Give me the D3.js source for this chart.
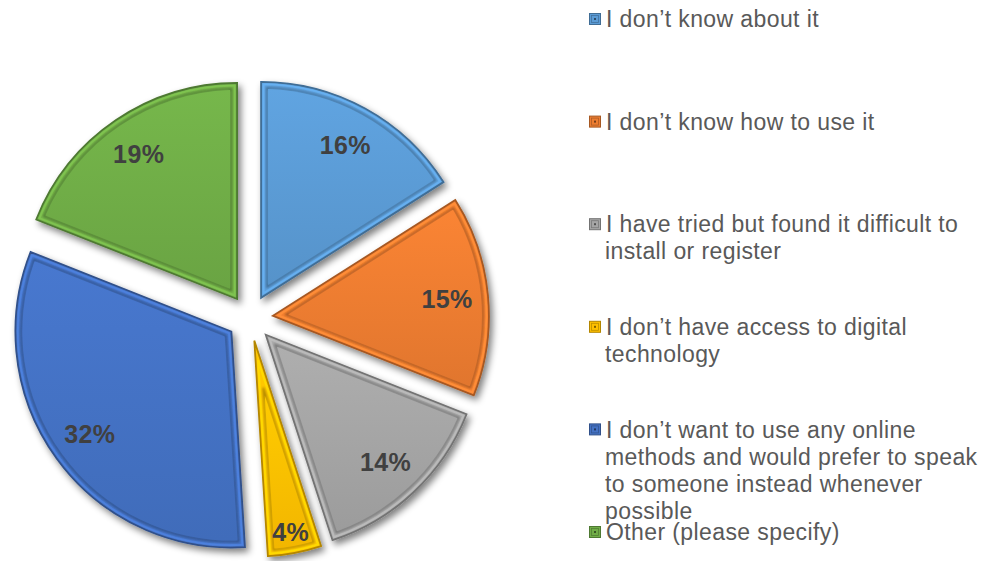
<!DOCTYPE html>
<html>
<head>
<meta charset="utf-8">
<script src="https://cdn.jsdelivr.net/npm/d3@7/dist/d3.min.js"></script>
<style>
  html, body { margin: 0; padding: 0; background: #fff; }
  svg { display: block; }
</style>
</head>
<body>
<svg id="chart" width="987" height="561"></svg>
<script>
// Reasons for not using online services (share of responses, %)
const categories = [
  "I don’t know about it",
  "I don’t know how to use it",
  "I have tried but found it difficult to install or register",
  "I don’t have access to digital technology",
  "I don’t want to use any online methods and would prefer to speak to someone instead whenever possible",
  "Other (please specify)"
];
const values = [16, 15, 14, 4, 32, 19];
const colors = ["#5B9BD5", "#ED7D31", "#A5A5A5", "#FFC000", "#4472C4", "#70AD47"];
// Legend text broken into the lines it wraps to
const legendLines = [
  ["I don’t know about it"],
  ["I don’t know how to use it"],
  ["I have tried but found it difficult to", "install or register"],
  ["I don’t have access to digital", "technology"],
  ["I don’t want to use any online", "methods and would prefer to speak", "to someone instead whenever", "possible"],
  ["Other (please specify)"]
];

const svg = d3.select("#chart");
const cx = 250, cy = 318, R = 216, explode = 23, bevel = 6;

const defs = svg.append("defs");

// soft shadow under each wedge
const shadow = defs.append("filter").attr("id", "shadow")
  .attr("x", "-20%").attr("y", "-20%").attr("width", "140%").attr("height", "140%");
shadow.append("feGaussianBlur").attr("in", "SourceAlpha").attr("stdDeviation", 3.5).attr("result", "b");
shadow.append("feOffset").attr("in", "b").attr("dx", 3).attr("dy", 4).attr("result", "o");
shadow.append("feComponentTransfer").attr("in", "o").attr("result", "s")
  .append("feFuncA").attr("type", "linear").attr("slope", 0.5);
const merge = shadow.append("feMerge");
merge.append("feMergeNode").attr("in", "s");
merge.append("feMergeNode").attr("in", "SourceGraphic");

// slight blur for the inner groove line
const groove = defs.append("filter").attr("id", "groove")
  .attr("x", "-10%").attr("y", "-10%").attr("width", "120%").attr("height", "120%");
groove.append("feGaussianBlur").attr("stdDeviation", 0.9);

colors.forEach((c, i) => {
  const g = defs.append("linearGradient").attr("id", "fill" + i)
    .attr("x1", 0).attr("y1", 0).attr("x2", 0).attr("y2", 1);
  g.append("stop").attr("offset", "0%").attr("stop-color", d3.color(c).brighter(0.15));
  g.append("stop").attr("offset", "100%").attr("stop-color", d3.color(c).darker(0.15));
});

const pie = d3.pie().sort(null).value(d => d)(values);
const arc = d3.arc().innerRadius(0).outerRadius(R);

// Inset wedge: straight edges moved inward by w, arc shrunk concentrically by w
function insetPath(d, w) {
  const a0 = d.startAngle, a1 = d.endAngle, half = (a1 - a0) / 2;
  const mid = a0 + half;
  const r2 = R - w;
  const k = w / Math.sin(half);
  const ax = k * Math.sin(mid), ay = -k * Math.cos(mid);
  const dphi = Math.asin(w / r2);
  const p0 = a0 - Math.PI / 2 + dphi;
  const p1 = a1 - Math.PI / 2 - dphi;
  const p = d3.path();
  p.moveTo(ax, ay);
  p.lineTo(r2 * Math.cos(p0), r2 * Math.sin(p0));
  p.arc(0, 0, r2, p0, p1, false);
  p.closePath();
  return p.toString();
}

const slices = svg.append("g").selectAll("g.slice")
  .data(pie).join("g").attr("class", "slice")
  .attr("transform", d => {
    const m = (d.startAngle + d.endAngle) / 2;
    return `translate(${cx + explode * Math.sin(m)},${cy - explode * Math.cos(m)})`;
  });

slices.append("path")
  .attr("d", arc)
  .attr("fill", (d, i) => d3.color(colors[i]).brighter(0.1))
  .attr("stroke", (d, i) => d3.color(colors[i]).darker(1.0))
  .attr("stroke-width", 1.8)
  .attr("stroke-linejoin", "miter")
  .attr("filter", "url(#shadow)");

// bevel band highlight
slices.append("path")
  .attr("d", d => insetPath(d, 2.5))
  .attr("fill", "none")
  .attr("stroke", (d, i) => d3.color(colors[i]).brighter(0.35))
  .attr("stroke-width", 2);

slices.append("path")
  .attr("d", d => insetPath(d, bevel))
  .attr("fill", (d, i) => `url(#fill${i})`)
  .attr("stroke", (d, i) => d3.color(colors[i]).darker(1.3))
  .attr("stroke-width", 2)
  .attr("stroke-opacity", 0.8)
  .attr("filter", "url(#groove)");

slices.append("path")
  .attr("d", d => insetPath(d, bevel + 1))
  .attr("fill", (d, i) => `url(#fill${i})`);

// percentage labels
slices.append("text")
  .attr("transform", d => {
    const m = (d.startAngle + d.endAngle) / 2;
    const share = (d.endAngle - d.startAngle) / (2 * Math.PI);
    const lr = share < 0.08 ? R * 0.9 : R * 0.81;
    return `translate(${lr * Math.sin(m)},${-lr * Math.cos(m)})`;
  })
  .attr("text-anchor", "middle")
  .attr("dy", "0.36em")
  .attr("font-family", "Liberation Sans, Arial, sans-serif")
  .attr("font-weight", "bold")
  .attr("font-size", 25)
  .attr("letter-spacing", 0.4)
  .attr("fill", "#404040")
  .text(d => d.data + "%");

// legend
const legend = svg.append("g").attr("transform", "translate(589,0)");
const rowY = d3.scaleLinear().domain([0, categories.length - 1]).range([19, 532]);
const items = legend.selectAll("g.item").data(categories).join("g")
  .attr("class", "item")
  .attr("transform", (d, i) => `translate(0,${rowY(i)})`);

items.append("rect")
  .attr("x", 0.5).attr("y", -5.5).attr("width", 11).attr("height", 11)
  .attr("fill", (d, i) => colors[i])
  .attr("stroke", (d, i) => d3.color(colors[i]).darker(1.0))
  .attr("stroke-width", 1);
items.append("rect")
  .attr("x", 2.5).attr("y", -3.5).attr("width", 7).attr("height", 7)
  .attr("fill", "none")
  .attr("stroke", (d, i) => d3.color(colors[i]).darker(1.3))
  .attr("stroke-width", 0.8).attr("stroke-opacity", 0.7);
items.append("rect")
  .attr("x", 5).attr("y", -1).attr("width", 2).attr("height", 2)
  .attr("fill", (d, i) => d3.color(colors[i]).darker(2));

items.append("text")
  .attr("font-family", "Liberation Sans, Arial, sans-serif")
  .attr("font-size", 23)
  .attr("letter-spacing", 0.4)
  .attr("fill", "#595959")
  .selectAll("tspan")
  .data((d, i) => legendLines[i])
  .join("tspan")
  .attr("x", (d, j) => j === 0 ? 17 : 16)
  .attr("y", (d, j) => j * 27)
  .attr("dy", "0.36em")
  .text(d => d);
</script>
</body>
</html>
